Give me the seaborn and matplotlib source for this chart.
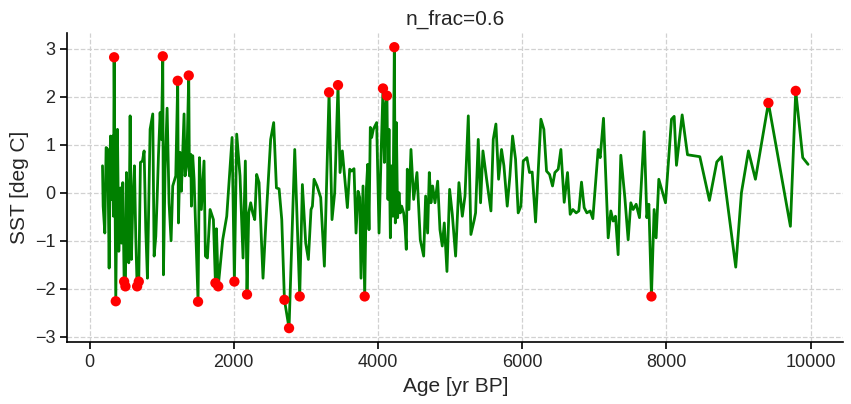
import seaborn as sns
import matplotlib.pyplot as plt
import numpy as np
import pandas as pd

# record (age in yr BP, SST anomaly in deg C)
age = [180, 189, 212, 230, 253, 272, 290, 304, 318, 332, 341, 364, 387, 406, 429, 443, 461, 480, 498, 512,
       531, 544, 563, 581, 600, 623, 641, 660, 683, 706, 734, 757, 780, 803, 840, 877, 896, 919, 937, 956,
       979, 997, 1016, 1025, 1048, 1076, 1103, 1131,
       1154, 1196, 1223, 1233, 1256, 1274, 1311, 1325, 1348, 1376, 1385, 1404, 1413, 1431, 1450, 1505, 1524,
       1551, 1588, 1607, 1635, 1672, 1718, 1746, 1760, 1785, 1847, 1903, 1977, 2009, 2041, 2087, 2129, 2161,
       2184, 2208, 2235, 2263, 2291, 2318, 2351, 2406, 2448, 2512, 2554,
       2592, 2629, 2666, 2703, 2767, 2846, 2915, 2952, 2998, 3035, 3072, 3091, 3114, 3155, 3206, 3257, 3322,
       3363, 3400, 3446, 3474, 3506, 3576, 3608, 3636, 3668, 3696, 3724, 3747, 3765, 3793, 3816, 3839, 3858,
       3876, 3894, 3913, 3936, 3982, 4015, 4043, 4070, 4089, 4102, 4125, 4139, 4153, 4172, 4190, 4209, 4227,
       4241, 4255, 4273, 4292, 4310, 4329, 4356, 4375, 4393, 4407, 4430, 4458, 4495, 4541, 4587, 4634, 4661,
       4689, 4712, 4735, 4758, 4791, 4828, 4860, 4892, 4920, 4957, 4994, 5031, 5077, 5123, 5170, 5207, 5253,
       5289, 5336, 5354, 5391, 5423, 5456, 5507, 5567, 5599, 5636, 5673, 5714, 5747, 5793, 5830, 5867, 5908,
       5945, 5982, 6015, 6066, 6102, 6139, 6186, 6260, 6301, 6338, 6380, 6421, 6454, 6500, 6537, 6583, 6629,
       6666, 6703, 6749, 6786, 6823, 6860, 6897, 6943, 6980, 7054, 7082, 7128, 7193, 7230, 7262, 7294, 7331,
       7368, 7424, 7470, 7507, 7539, 7581, 7627, 7692, 7729, 7757, 7793, 7830, 7858, 7895,
       7988, 8071, 8108, 8140, 8219, 8293, 8464, 8597, 8699, 8764, 8962, 9041, 9138, 9235, 9415, 9720, 9794,
       9891, 9965]
sst = [0.56, -0.28, -0.84, 0.94, 0.90, -1.57, 1.18, -0.14, 1.18, -0.49, 2.82, -2.26, 1.32, -1.22, 0.10, -1.05,
       0.21, -1.85, -1.95, 0.42, -0.35, -1.46, 1.60, -1.39, -0.21, 0.56, -0.91, -1.95, -1.85, 0.63, 0.66, 0.87,
       -0.77, -1.78, 1.32, 1.64, -1.32, -0.91, -0.14, 0.77, 1.67, 1.11, 2.84, -1.71, 0.49, 1.76, -0.21, -1.00,
       0.14, 0.35, 2.33, -0.63, 0.84, 0.03, 1.64, 0.35, 0.56, 2.44, 0.35, 0.80, -0.28, 0.77, 0.28, -2.27, 0.73,
       -0.35, 0.66, -1.32, -1.36, -0.35, -0.56, -1.88, -0.75, -1.95, -0.98, -0.49, 1.15, -1.85, 1.22, 0.35,
       -1.36, 0.66, -2.12, -0.42, -0.21, -0.42, -0.56, 0.38, 0.21, -1.78, -0.56, 1.11, 1.46,
       0.10, 0.08, -0.56, -2.23, -2.82, 0.90, -2.16, 0.17, -1.05, -1.39, -0.35, -0.28, 0.28, 0.14, -0.10, -1.53,
       2.09, -0.56, 0.00, 2.24, 0.42, 0.87, -0.31, 0.49, 0.45, 0.50, -0.84, 0.03, -0.10, -1.78, 0.14, -2.16,
       0.07, 0.59, -0.77, 1.36, 1.15, 1.32, 1.46, -0.84, 0.77, 2.17, 0.63, 1.74, 2.02, -0.14, 1.32, -0.94, 0.56,
       -0.49, 3.03, -0.63, 1.46, -0.52, 0.00, -0.42, -0.28, -0.42, -0.70, -1.18, 0.49, -0.35, 0.90, -0.14, 0.42,
       -0.98, -1.32, -0.07, -0.84, 0.42, -0.21, 0.14, -0.21, 0.24, -0.77, -1.11, -0.63, -1.64, 0.07, -0.45,
       -1.32, 0.21, -0.49, -0.07, 1.60,
       -0.87, -0.56, -0.42, 1.11, -0.21, 0.87, 0.28, -0.38, 1.11, 1.43, 0.28, 0.90, 0.56, -0.28, 0.35, 1.18, 0.70,
       -0.42, -0.28, 0.66, 0.73, 0.42, 0.43, -0.61, 1.53, 1.32, 0.45, 0.38, 0.14, 0.42, 0.49, 0.90, -0.20, 0.42,
       -0.45, -0.35, -0.42, -0.38, 0.22, -0.31, -0.42, -0.38, -0.54, 0.90, 0.73, 1.55, -0.94, -0.38, -0.59,
       -0.49, -1.29, 0.78, -0.10, -0.98, -0.21, -0.35, -0.24, -0.52, 1.27, -0.52, -0.24, -2.16, -0.35, -0.94,
       0.28,
       -0.21, 1.53, 1.59, 0.57, 1.62, 0.79, 0.75, -0.16, 0.64, 0.75, -1.55, 0.00, 0.87, 0.28, 1.87, -0.70, 2.12,
       0.73, 0.59]

n_frac = 0.6
threshold = 1.8  # outliers flagged in red

df = pd.DataFrame({'age': age, 'sst': sst})
out = df[df['sst'].abs() >= threshold]

sns.set_theme(style='ticks')
plt.rcParams['font.family'] = ['Liberation Sans', 'DejaVu Sans']

fig, ax = plt.subplots(figsize=(8.51, 4.04), dpi=100)
fig.subplots_adjust(left=0.079, right=0.991, bottom=0.153, top=0.918)

sns.lineplot(data=df, x='age', y='sst', color='green', lw=2, estimator=None, sort=False, ax=ax, zorder=2)
sns.scatterplot(data=out, x='age', y='sst', color='red', s=55, edgecolor='none', ax=ax, zorder=3)

ax.grid(True, ls='--', color='0.82', lw=0.9)
ax.set_axisbelow(True)
ax.set_xticks([0, 2000, 4000, 6000, 8000, 10000])
ax.set_yticks([-3, -2, -1, 0, 1, 2, 3])
ax.tick_params(labelsize=13, length=5, width=1.2, color='black')
for s in ['left', 'bottom']:
    ax.spines[s].set_linewidth(1.2)
    ax.spines[s].set_color('black')
sns.despine(ax=ax)

ax.set_xlabel('Age [yr BP]', fontsize=15)
ax.set_ylabel('SST [deg C]', fontsize=15)
ax.set_title(f'n_frac={n_frac}', fontsize=15)

plt.savefig('out.png', dpi=100)
